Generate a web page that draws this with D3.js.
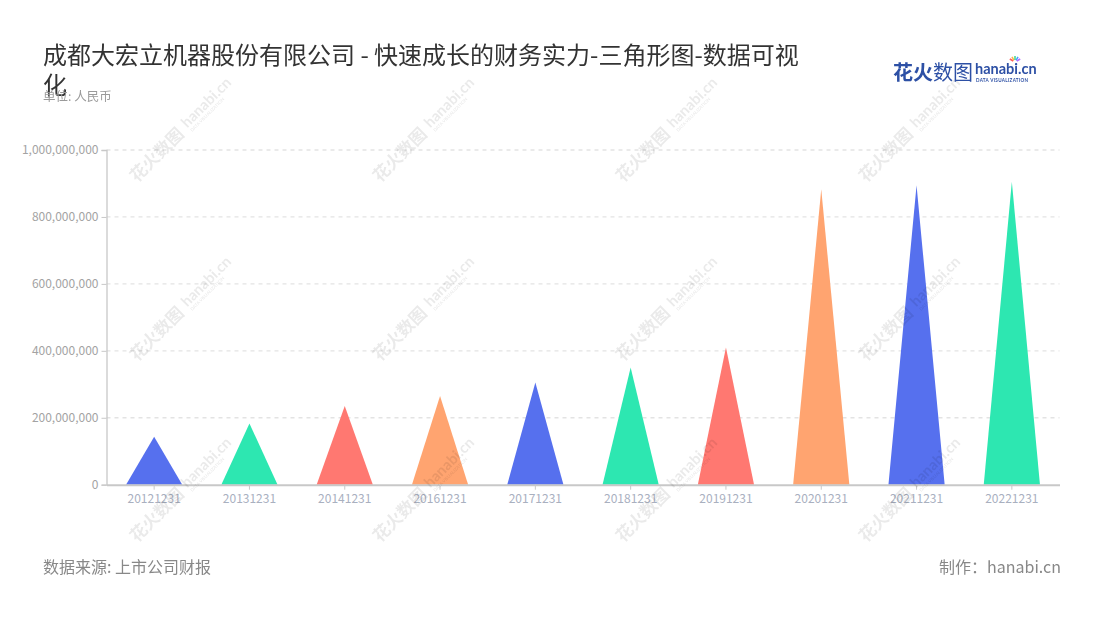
<!DOCTYPE html>
<html>
<head>
<meta charset="utf-8">
<script src="https://cdn.jsdelivr.net/npm/d3@7"></script>
<style>
  html, body { margin: 0; padding: 0; background: #fff; }
  svg { display: block; font-family: "Noto Sans CJK SC", "Noto Sans", sans-serif; }
</style>
</head>
<body>
<svg id="chart" width="1100" height="620"></svg>
<script>
const categories = ['20121231','20131231','20141231','20161231','20171231','20181231','20191231','20201231','20211231','20221231'];
const values = [143000000, 183000000, 235000000, 265000000, 305000000, 350000000, 410000000, 883000000, 895000000, 905000000];
const palette = ['#5670EE', '#2DE7B1', '#FF7871', '#FFA470'];
const yTicks = [0, 200000000, 400000000, 600000000, 800000000, 1000000000];
const titleLines = ['成都大宏立机器股份有限公司 - 快速成长的财务实力-三角形图-数据可视', '化'];
const subtitle = '单位: 人民币';
const sourceText = '数据来源: 上市公司财报';
const makerText = '制作：hanabi.cn';

const svg = d3.select('#chart');
const plot = { left: 106.5, right: 1059.5, top: 150, bottom: 484.7 };

const x = d3.scaleBand().domain(categories).range([plot.left, plot.right]).padding(0);
const y = d3.scaleLinear().domain([0, 1000000000]).range([plot.bottom, plot.top]);

// gridlines
svg.append('g').selectAll('line').data(yTicks.filter(d => d > 0)).join('line')
  .attr('x1', plot.left).attr('x2', plot.right)
  .attr('y1', d => y(d)).attr('y2', d => y(d))
  .attr('stroke', '#e3e3e3').attr('stroke-width', 1.3).attr('stroke-dasharray', '4,4');

// y axis
const yAxis = svg.append('g').attr('transform', `translate(${plot.left},0)`)
  .call(d3.axisLeft(y).tickValues(yTicks).tickFormat(d3.format(',')).tickSize(5).tickPadding(3));
yAxis.select('.domain').attr('stroke', '#c8c8c8').attr('stroke-width', 1.3);
yAxis.selectAll('.tick line').attr('stroke', '#c8c8c8');
yAxis.selectAll('.tick text').attr('fill', '#a3a3a3').attr('font-size', 12)
  .attr('font-family', '"Noto Sans CJK SC", sans-serif');

// triangles
const tw = x.bandwidth() * 0.59;
svg.append('g').selectAll('path').data(categories).join('path')
  .attr('d', (c, i) => {
    const cx = x(c) + x.bandwidth() / 2;
    return `M${cx - tw / 2},${y(0)}L${cx},${y(values[i])}L${cx + tw / 2},${y(0)}Z`;
  })
  .attr('fill', (c, i) => palette[i % palette.length]);

// x axis
const xAxis = svg.append('g').attr('transform', `translate(0,${plot.bottom})`)
  .call(d3.axisBottom(x).tickSize(5).tickSizeOuter(0).tickPadding(5));
xAxis.select('.domain').attr('stroke', '#c8c8c8').attr('stroke-width', 2);
xAxis.selectAll('.tick line').attr('stroke', '#c8c8c8');
xAxis.selectAll('.tick text').attr('fill', '#a9b0bf').attr('font-size', 12)
  .attr('font-family', '"Noto Sans CJK SC", sans-serif');

// watermarks
const wmCols = [137, 380, 623, 866];
const wmRows = [183, 362, 543];
const wm = svg.append('g').attr('opacity', 0.085).attr('fill', '#000');
wmCols.forEach(cx => wmRows.forEach(cy => {
  const g = wm.append('g').attr('transform', `translate(${cx},${cy}) rotate(-45)`);
  g.append('text').attr('x', 0).attr('y', 0).attr('font-size', 17).attr('font-weight', 'bold').text('花火数图');
  g.append('text').attr('x', 74).attr('y', -3).attr('font-size', 15).attr('font-weight', 'bold')
    .attr('font-family', 'Lato, sans-serif').text('hanabi.cn');
  g.append('text').attr('x', 75).attr('y', 3).attr('font-size', 4.5).attr('font-weight', 'bold')
    .attr('font-family', 'Lato, sans-serif').text('DATA VISUALIZATION');
}));

// title
const title = svg.append('text').attr('x', 43).attr('y', 64).attr('fill', '#333')
  .attr('font-size', 24);
titleLines.forEach((t, i) => title.append('tspan').attr('x', 43).attr('y', 64 + i * 30).text(t));

svg.append('text').attr('x', 43).attr('y', 101).attr('fill', '#9a9a9a').attr('font-size', 12.5).text(subtitle);

// logo
const logo = svg.append('g').attr('fill', '#2d50a5');
logo.append('text').attr('x', 893).attr('y', 80).attr('font-size', 20).attr('font-weight', 'bold').text('花火');
logo.append('text').attr('x', 933).attr('y', 80).attr('font-size', 20).text('数图');
logo.append('text').attr('x', 975).attr('y', 74).attr('font-size', 14.5).attr('font-weight', 'bold')
  .attr('font-family', 'Lato, sans-serif').text('hanabi.cn');
logo.append('text').attr('x', 976).attr('y', 82).attr('font-size', 4.6).attr('font-weight', 'bold')
  .attr('font-family', 'Lato, sans-serif').attr('letter-spacing', 0.3).text('DATA VISUALIZATION');
const sparkColors = ['#ff5a5a', '#ffb443', '#3fd68a', '#3da2ff', '#b46cff'];
sparkColors.forEach((c, i) => {
  const a = -150 + i * 30;
  const r = a * Math.PI / 180;
  svg.append('line').attr('x1', 1015 + Math.cos(r) * 2).attr('y1', 62 + Math.sin(r) * 2)
    .attr('x2', 1015 + Math.cos(r) * 6).attr('y2', 62 + Math.sin(r) * 6)
    .attr('stroke', c).attr('stroke-width', 1.5);
});

// footer
svg.append('text').attr('x', 43).attr('y', 573).attr('fill', '#888').attr('font-size', 16).text(sourceText);
svg.append('text').attr('x', 1061).attr('y', 573).attr('fill', '#888').attr('font-size', 16)
  .attr('text-anchor', 'end').text(makerText);
</script>
</body>
</html>
